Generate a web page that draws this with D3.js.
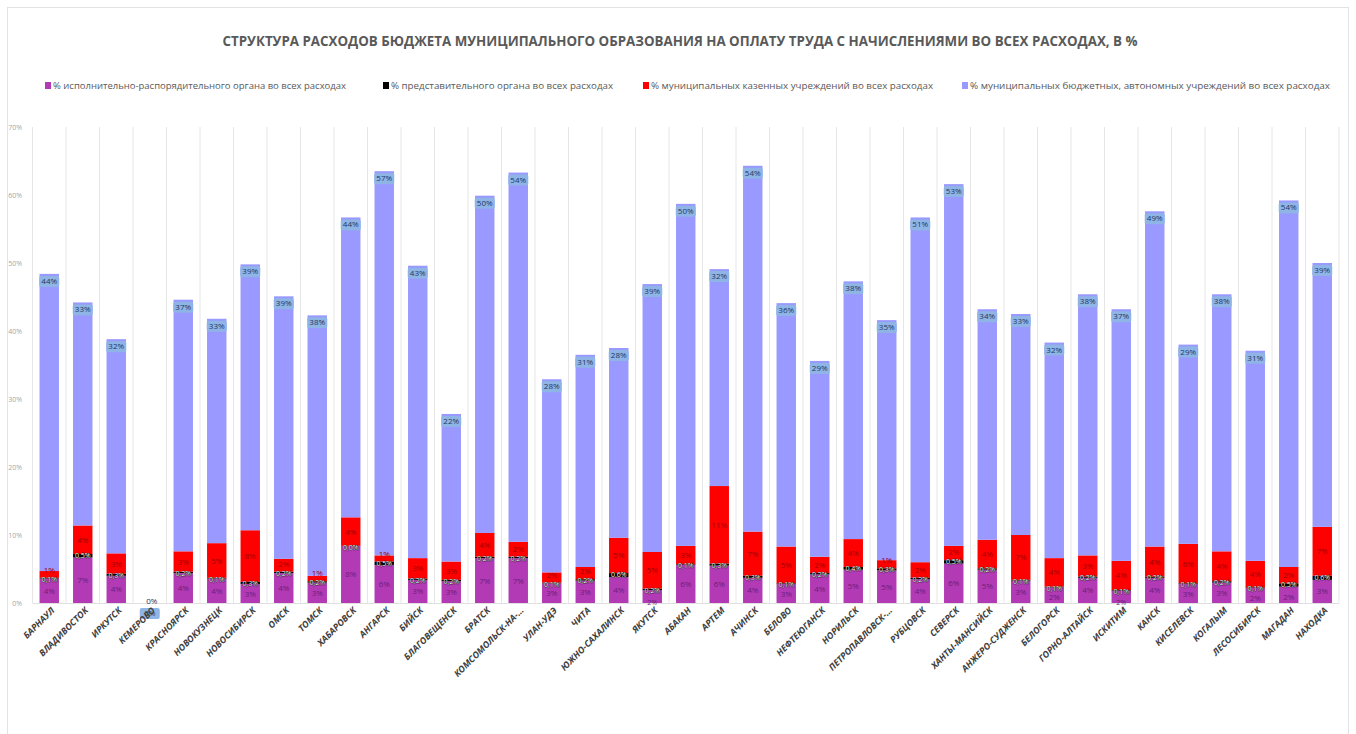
<!DOCTYPE html>
<html><head><meta charset="utf-8">
<script src="https://cdn.jsdelivr.net/npm/d3@7/dist/d3.min.js"></script>
<style>body{margin:0;background:#fff;} svg{display:block;}</style>
</head><body>
<svg id="chart" width="1356" height="734"></svg>
<script>
const cities = ["БАРНАУЛ","ВЛАДИВОСТОК","ИРКУТСК","КЕМЕРОВО","КРАСНОЯРСК","НОВОКУЗНЕЦК","НОВОСИБИРСК","ОМСК","ТОМСК","ХАБАРОВСК","АНГАРСК","БИЙСК","БЛАГОВЕЩЕНСК","БРАТСК","КОМСОМОЛЬСК-НА-…","УЛАН-УДЭ","ЧИТА","ЮЖНО-САХАЛИНСК","ЯКУТСК","АБАКАН","АРТЕМ","АЧИНСК","БЕЛОВО","НЕФТЕЮГАНСК","НОРИЛЬСК","ПЕТРОПАВЛОВСК-…","РУБЦОВСК","СЕВЕРСК","ХАНТЫ-МАНСИЙСК","АНЖЕРО-СУДЖЕНСК","БЕЛОГОРСК","ГОРНО-АЛТАЙСК","ИСКИТИМ","КАНСК","КИСЕЛЕВСК","КОГАЛЫМ","ЛЕСОСИБИРСК","МАГАДАН","НАХОДКА"];
const execShare = [3.6,6.7,4.0,0,4.4,3.6,2.8,4.4,3.0,8.4,5.6,3.4,3.2,6.6,6.6,2.9,3.3,3.8,1.9,5.6,5.5,3.7,2.8,4.2,4.9,4.8,3.5,5.8,4.9,3.3,2.3,3.7,1.8,3.7,2.8,3.0,2.2,2.4,3.4];
const reprShare = [0.1,0.5,0.3,0,0.2,0.1,0.3,0.2,0.2,0.0,0.5,0.2,0.2,0.2,0.2,0.1,0.2,0.6,0.2,0.1,0.3,0.3,0.1,0.2,0.4,0.3,0.2,0.5,0.2,0.1,0.1,0.2,0.1,0.2,0.1,0.2,0.1,0.5,0.6];
const kazenShare = [1.0,4.2,3.0,0,3.0,5.1,7.6,1.9,0.8,4.2,0.9,3.0,2.7,3.5,2.2,1.5,1.8,5.2,5.4,2.7,11.4,6.5,5.4,2.4,4.1,1.2,2.3,2.1,4.2,6.6,4.2,3.1,4.3,4.4,5.8,4.4,3.9,2.4,7.2];
const budgShare = [43.7,32.8,31.5,0,37.0,33.0,39.1,38.6,38.3,44.1,56.5,43.0,21.7,49.6,54.3,28.4,31.2,27.9,39.4,50.3,31.9,53.8,35.8,28.8,37.9,35.3,50.7,53.2,33.9,32.5,31.7,38.4,37.0,49.3,29.3,37.8,30.9,53.9,38.8];
const yTicks = [0,10,20,30,40,50,60,70];
const seriesNames = ["% исполнительно-распорядительного органа во всех расходах","% представительного органа во всех расходах","% муниципальных казенных учреждений во всех расходах","% муниципальных бюджетных, автономных учреждений во всех расходах"];
const titleText = "СТРУКТУРА РАСХОДОВ БЮДЖЕТА МУНИЦИПАЛЬНОГО ОБРАЗОВАНИЯ НА ОПЛАТУ ТРУДА С НАЧИСЛЕНИЯМИ ВО ВСЕХ РАСХОДАХ, В %";

const colors = ["#B23AB4","#000000","#FF0000","#9999FF"];
const keys = ["exec","repr","kazen","budg"];
const table = cities.map((c,i)=>({city:c, exec:execShare[i], repr:reprShare[i], kazen:kazenShare[i], budg:budgShare[i]}));

const svg = d3.select("#chart");
const font = "'Open Sans', 'Noto Sans', sans-serif";

// frame
svg.append("rect").attr("x",7.5).attr("y",7.5).attr("width",1341).attr("height",740)
  .attr("fill","none").attr("stroke","#e3e3e3");

// title
svg.append("text").attr("x",680).attr("y",46).attr("text-anchor","middle")
  .attr("font-family",font).attr("font-size",14).attr("font-weight","bold").attr("fill","#595959")
  .attr("textLength",915).attr("lengthAdjust","spacingAndGlyphs").text(titleText);

// legend
const legX = [45, 383, 643, 962];
const legW = [293, 222, 282, 360];
seriesNames.forEach((n,i)=>{
  svg.append("rect").attr("x",legX[i]).attr("y",82).attr("width",6).attr("height",7).attr("fill",colors[i]);
  svg.append("text").attr("x",legX[i]+8).attr("y",89).attr("font-family",font).attr("font-size",9.5)
    .attr("fill","#595959").attr("textLength",legW[i]).attr("lengthAdjust","spacingAndGlyphs").text(n);
});

const x0 = 32.5, x1 = 1339;
const x = d3.scaleBand().domain(cities).range([x0,x1]).paddingInner(0.42).paddingOuter(0.21);
const y = d3.scaleLinear().domain([0,70]).range([603,127]);

// vertical gridlines at category boundaries
const bnd = d3.range(cities.length+1).map(i=>x0+i*(x1-x0)/cities.length);
svg.append("g").selectAll("line").data(bnd).join("line")
  .attr("x1",d=>d).attr("x2",d=>d)
  .attr("y1",y(70)).attr("y2",y(0)).attr("stroke","#e6e6e6").attr("stroke-width",1);
svg.append("line").attr("x1",x0).attr("x2",x1).attr("y1",y(0)+0.5).attr("y2",y(0)+0.5).attr("stroke","#e0e0e0");

// y axis
const yAxis = d3.axisLeft(y).tickValues(yTicks).tickFormat(d=>d+"%").tickSize(0);
const ya = svg.append("g").attr("transform","translate(25,0)").call(yAxis);
ya.select(".domain").remove();
ya.selectAll("text").attr("font-family",font).attr("font-size",7).attr("fill","#a6a6a6");

// stacks
const stack = d3.stack().keys(keys)(table);
const g = svg.append("g");
stack.forEach((s,si)=>{
  g.append("g").attr("fill",colors[si]).selectAll("rect").data(s).join("rect")
    .attr("x",d=>x(d.data.city)).attr("width",x.bandwidth())
    .attr("y",d=>y(d[1])).attr("height",d=>Math.max(0,y(d[0])-y(d[1])));
});

// labels
const fmtInt = v => Math.round(v)+"%";
const fmtDec = v => v.toFixed(1).replace(".",",")+"%";
const lab = svg.append("g").attr("font-family",font).attr("font-size",8).attr("text-anchor","middle");
// budget labels with box
stack[3].forEach(d=>{
  const cx = x(d.data.city)+x.bandwidth()/2;
  const isZero = d.data.budg===0;
  const ty = isZero ? y(0)+13 : y(d[1])+10;
  lab.append("rect").attr("x",cx-10).attr("y",ty-8).attr("width",20).attr("height",11).attr("rx",2)
    .attr("fill","#8FB4E6");
  lab.append("text").attr("x",cx).attr("y",ty).attr("fill","#1F3864").text(fmtInt(d.data.budg));
});
// exec labels (kept below the representative-body label)
stack[0].forEach(d=>{
  const cx = x(d.data.city)+x.bandwidth()/2;
  if (d.data.exec===0) return;
  const h = y(d[0])-y(d[1]);
  const small = h < 14;
  const mid = (y(d[0])+y(d[1]))/2+3;
  const ty = small ? y(0)+1.5 : Math.min(Math.max(mid, y(d[1])+13), y(0)-1);
  lab.append("text").attr("x",cx).attr("y",ty).attr("fill","#6B1E7A")
    .attr("font-size",small?7:8).text(fmtInt(d.data.exec));
});
// kazen labels (kept above the representative-body label)
stack[2].forEach(d=>{
  const cx = x(d.data.city)+x.bandwidth()/2;
  if (d.data.kazen===0) return;
  const mid = (y(d[0])+y(d[1]))/2+3;
  lab.append("text").attr("x",cx).attr("y",Math.min(mid, y(d[0])-5)).attr("fill","#A00000").text(fmtInt(d.data.kazen));
});
// repr labels
stack[1].forEach(d=>{
  const cx = x(d.data.city)+x.bandwidth()/2;
  if (d.data.city==="КЕМЕРОВО") {
    lab.append("text").attr("x",cx+2).attr("y",y(0)+1).attr("fill","#1F3864").text("0%");
    return;
  }
  lab.append("text").attr("x",cx).attr("y",y(d[1])+4).attr("fill","#ffffff")
    .attr("stroke","#000").attr("stroke-width",0.6).attr("paint-order","stroke").attr("font-size",7)
    .text(fmtDec(d.data.repr));
});

// x axis labels
const xl = svg.append("g");
cities.forEach(c=>{
  const cx = x(c)+x.bandwidth()/2+6;
  xl.append("text").attr("transform",`translate(${cx},611) rotate(-45)`).attr("text-anchor","end")
    .attr("font-family",font).attr("font-size",9).attr("font-weight","bold").attr("font-style","italic")
    .attr("fill","#404040").text(c);
});
</script>
</body></html>
